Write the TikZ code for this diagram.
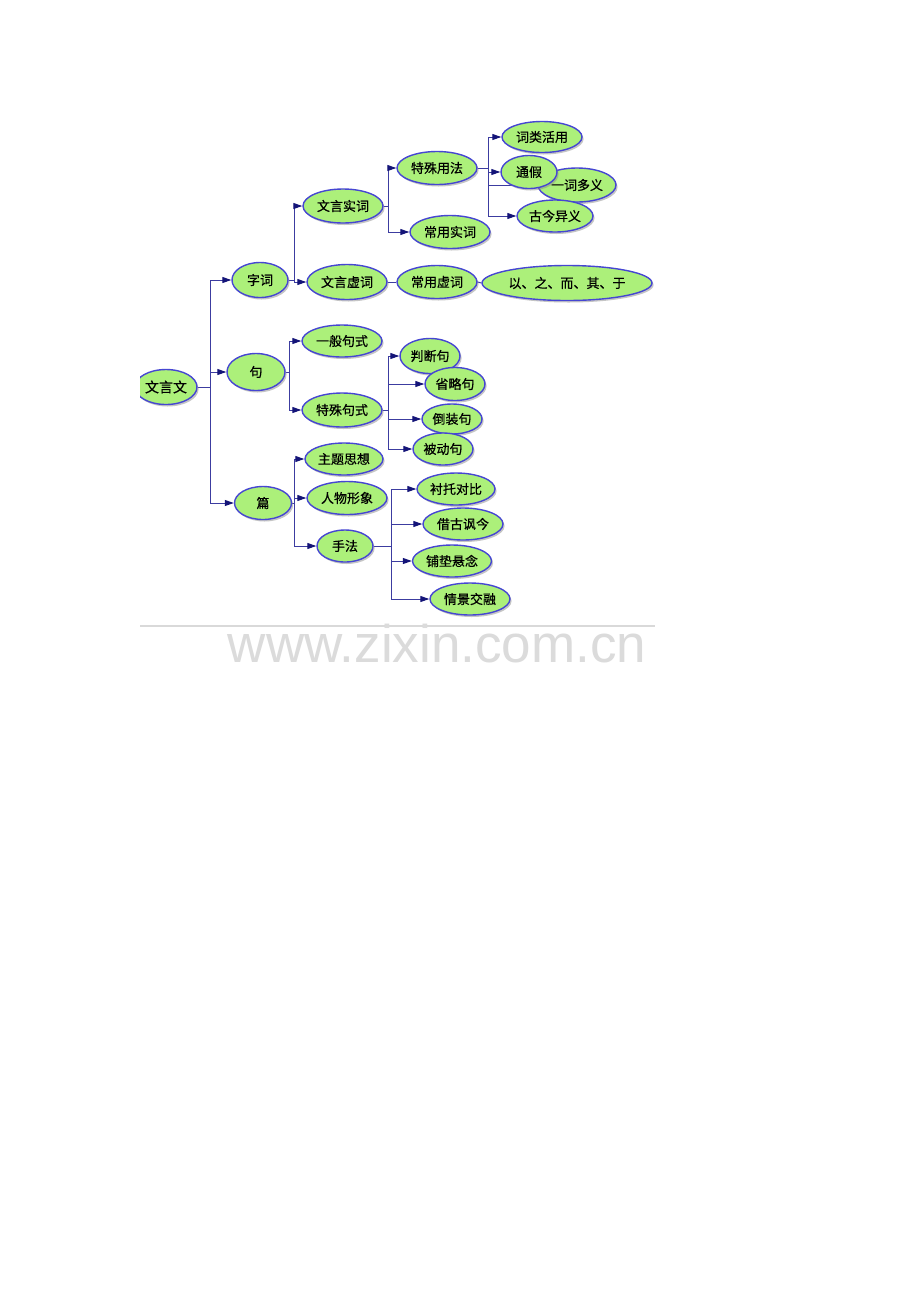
\documentclass[tikz,border=0pt]{standalone}
\usepackage{fontspec}
\newfontfamily\cjk[FakeBold=0.6]{Noto Sans CJK SC}
\setsansfont{Liberation Sans}
\usetikzlibrary{shapes.geometric,arrows.meta,shadows,backgrounds}
\definecolor{nodefill}{RGB}{172,240,122}
\definecolor{nodeline}{RGB}{70,70,210}
\definecolor{conn}{RGB}{60,60,160}
\definecolor{tipc}{RGB}{20,20,120}
\begin{document}
\begin{tikzpicture}[x=1pt,y=-1pt,
  bub/.style={ellipse,draw=nodeline,line width=1.4pt,fill=nodefill,inner sep=0pt,
    font=\cjk\fontsize{13}{13}\selectfont,
    drop shadow={shadow xshift=1.6pt,shadow yshift=-2pt,fill=black!45}},
  conline/.style={draw=conn,line width=1pt},
  arr/.style={conline,-{Triangle[length=9pt,width=6pt,color=tipc]}}]
\begin{scope}[on background layer]
\fill[white] (0,0) rectangle (920,1302);
\end{scope}
\useasboundingbox (0,0) rectangle (920,1302);
% watermark
\draw[black!15,line width=2pt] (140,626) -- (655,626);
\node[font=\sffamily\fontsize{53}{53}\selectfont,text=black!14,anchor=base,inner sep=0pt] (wm) at (437,662) {www.zixin.com.cn};
% nodes
\begin{scope}
\clip (140,0) rectangle (920,1302);
\node[bub,minimum width=62pt,minimum height=35pt,font=\cjk\fontsize{14}{14}\selectfont] (root) at (166,387) {文言文};
\end{scope}
\node[bub,minimum width=56pt,minimum height=35pt] (zici) at (260,280) {字词};
\node[bub,minimum width=80pt,minimum height=34pt] (shici) at (343,206) {文言实词};
\node[bub,minimum width=80pt,minimum height=35pt] (xuci) at (347,282) {文言虚词};
\node[bub,minimum width=80pt,minimum height=33pt] (tsyf) at (437,168) {特殊用法};
\node[bub,minimum width=80pt,minimum height=33pt] (cysc) at (450,232) {常用实词};
\node[bub,minimum width=80pt,minimum height=31pt] (clhy) at (542,137) {词类活用};
\node[bub,minimum width=78pt,minimum height=34pt] (ycdy) at (577,185) {一词多义};
\node[bub,minimum width=56pt,minimum height=33pt] (tj) at (529,172) {通假};
\node[bub,minimum width=76pt,minimum height=32pt] (gjyy) at (555,216) {古今异义};
\node[bub,minimum width=80pt,minimum height=33pt] (cyxc) at (437,282) {常用虚词};
\node[bub,minimum width=170pt,minimum height=35pt] (yzer) at (567,283) {以、之、而、其、于};
\node[bub,minimum width=58pt,minimum height=37pt] (ju) at (256,372) {句};
\node[bub,minimum width=80pt,minimum height=32pt] (ybjs) at (342,341) {一般句式};
\node[bub,minimum width=80pt,minimum height=34pt] (tsjs) at (342,410) {特殊句式};
\node[bub,minimum width=60pt,minimum height=35pt] (pdj) at (430,356) {判断句};
\node[bub,minimum width=60pt,minimum height=33pt] (slj) at (455,384) {省略句};
\node[bub,minimum width=60pt,minimum height=30pt] (dzj) at (452,419) {倒装句};
\node[bub,minimum width=60pt,minimum height=32pt] (bdj) at (443,449) {被动句};
\node[bub,minimum width=57pt,minimum height=33pt] (pian) at (263,503) {篇};
\node[bub,minimum width=78pt,minimum height=32pt] (ztsx) at (344,459) {主题思想};
\node[bub,minimum width=80pt,minimum height=33pt] (rwxx) at (347,498) {人物形象};
\node[bub,minimum width=56pt,minimum height=32pt] (sf) at (345,546) {手法};
\node[bub,minimum width=78pt,minimum height=32pt] (ctdb) at (456,489) {衬托对比};
\node[bub,minimum width=80pt,minimum height=32pt] (jgfj) at (463,524) {借古讽今};
\node[bub,minimum width=79pt,minimum height=32pt] (pdxn) at (452,561) {铺垫悬念};
\node[bub,minimum width=80pt,minimum height=32pt] (qjjr) at (470,599) {情景交融};
% connectors
\begin{scope}[on background layer]
\coordinate (t0) at (210,387);
\coordinate (t1) at (294,280);
\coordinate (t2) at (388,206);
\coordinate (t3) at (488,168);
\coordinate (t4) at (289,372);
\coordinate (t5) at (388,410);
\coordinate (t6) at (294,503);
\coordinate (t7) at (391,546);
\draw[conline] (root.east) -- (t0);
\draw[arr] (t0) |- (zici.west);
\draw[arr] (t0) |- (ju.west);
\draw[arr] (t0) |- (pian.west);
\draw[conline] (zici.east) -- (t1);
\draw[arr] (t1) |- (shici.west);
\draw[arr] (t1) |- (xuci.west);
\draw[conline] (shici.east) -- (t2);
\draw[arr] (t2) |- (tsyf.west);
\draw[arr] (t2) |- (cysc.west);
\draw[conline] (tsyf.east) -- (t3);
\draw[arr] (t3) |- (clhy.west);
\draw[arr] (t3) |- (tj.west);
\draw[arr] (t3) |- (ycdy.west);
\draw[arr] (t3) |- (gjyy.west);
\draw[conline] (xuci.east) -- (cyxc.west);
\draw[conline] (cyxc.east) -- (yzer.west);
\draw[conline] (ju.east) -- (t4);
\draw[arr] (t4) |- (ybjs.west);
\draw[arr] (t4) |- (tsjs.west);
\draw[conline] (tsjs.east) -- (t5);
\draw[arr] (t5) |- (pdj.west);
\draw[arr] (t5) |- (slj.west);
\draw[arr] (t5) |- (dzj.west);
\draw[arr] (t5) |- (bdj.west);
\draw[conline] (pian.east) -- (t6);
\draw[arr] (t6) |- (ztsx.west);
\draw[arr] (t6) |- (rwxx.west);
\draw[arr] (t6) |- (sf.west);
\draw[conline] (sf.east) -- (t7);
\draw[arr] (t7) |- (ctdb.west);
\draw[arr] (t7) |- (jgfj.west);
\draw[arr] (t7) |- (pdxn.west);
\draw[arr] (t7) |- (qjjr.west);
\end{scope}
\end{tikzpicture}
\end{document}
